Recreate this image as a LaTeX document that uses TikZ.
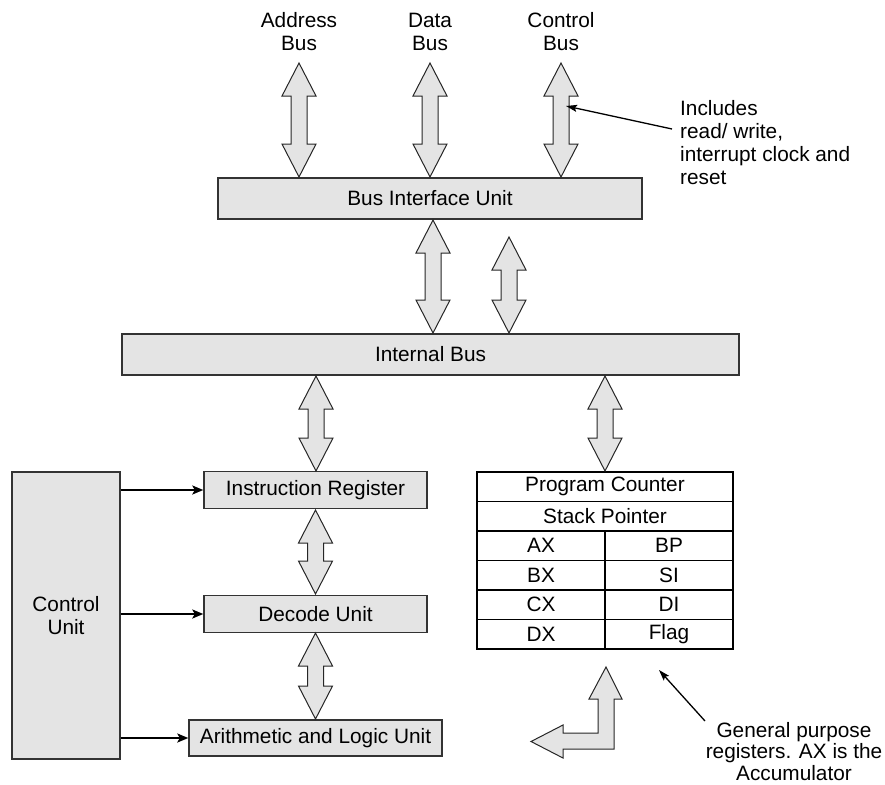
\documentclass[tikz,border=0pt]{standalone}
\usepackage{fontspec}
\setmainfont{Liberation Sans}
\usetikzlibrary{arrows.meta,calc}
\definecolor{boxfill}{HTML}{E4E4E4}
\definecolor{edge}{HTML}{333333}
\tikzset{
  lbl/.style={font=\fontsize{20.8}{23}\selectfont, inner sep=0pt, align=center},
  box/.style={draw=edge, fill=boxfill, line width=1.4pt, inner sep=0pt,
              font=\fontsize{20.8}{23}\selectfont},
  cell/.style={draw=black, line width=1.2pt, inner sep=0pt, minimum height=29.5pt,
              font=\fontsize{20.8}{23}\selectfont},
  busarrow/.style={draw=black!85, fill=boxfill, line width=1pt, line join=miter},
  ctl/.style={draw=black, line width=1.9pt, -{Stealth[length=11pt,width=9pt,inset=2.5pt]}},
  ann/.style={draw=black, line width=1.3pt, -{Stealth[length=11pt,width=7pt,inset=2pt]}}
}
\newcommand\vbus[3]{%
  \draw[busarrow] (#1,#2) -- (#1+17,#2+33) -- (#1+8,#2+33) -- (#1+8,#3-33)
    -- (#1+17,#3-33) -- (#1,#3) -- (#1-17,#3-33) -- (#1-8,#3-33)
    -- (#1-8,#2+33) -- (#1-17,#2+33) -- cycle;}
\begin{document}
\begin{tikzpicture}[x=1pt,y=-1pt]
\useasboundingbox (0,0) rectangle (885,784);

% top labels
\node[lbl] (addr) at (299,31.5) {Address\\Bus};
\node[lbl] (data) at (430,31.5) {Data\\Bus};
\node[lbl] (ctrl) at (561,31.5) {Control\\Bus};

% boxes
\node[box, minimum width=424pt, minimum height=41pt] (biu) at (430,198.5) {Bus Interface Unit};
\node[box, minimum width=617pt, minimum height=41pt] (ib) at (430.5,354.5) {Internal Bus};
\node[box, minimum width=223pt, minimum height=37pt] (ir) at (315.5,490) {Instruction Register};
\node[box, minimum width=223pt, minimum height=37pt] (dec) at (315.5,614) {Decode Unit};
\node[box, minimum width=253pt, minimum height=36pt] (alu) at (315.5,738) {Arithmetic and Logic Unit};
\node[box, minimum width=108pt, minimum height=287pt, align=center] (cu) at (66,615.5) {Control\\Unit};

% register table
\node[cell, minimum width=256pt] (pc) at (605,486.75) {Program Counter};
\node[cell, minimum width=256pt] (sp) at (605,516.25) {Stack Pointer};
\node[cell, minimum width=128pt] (ax) at (541,545.75) {AX};
\node[cell, minimum width=128pt] (bp) at (669,545.75) {BP};
\node[cell, minimum width=128pt] (bx) at (541,575.25) {BX};
\node[cell, minimum width=128pt] (si) at (669,575.25) {SI};
\node[cell, minimum width=128pt] (cx) at (541,604.75) {CX};
\node[cell, minimum width=128pt] (di) at (669,604.75) {DI};
\node[cell, minimum width=128pt] (dx) at (541,634.25) {DX};
\node[cell, minimum width=128pt] (fl) at (669,634.25) {Flag};

% bus arrows
\vbus{299}{63}{177}
\vbus{430}{63}{177}
\vbus{561}{63}{177}
\vbus{433}{220}{333}
\vbus{509}{237}{333}
\vbus{316}{376}{471}
\vbus{605}{376}{471}
\vbus{315.5}{510}{594}
\vbus{315.5}{633}{719}

% bent arrow
\draw[busarrow] (606,667) -- (622,699) -- (614,699) -- (614,749) -- (563,749)
  -- (563,758) -- (531,741.5) -- (563,725) -- (563,733) -- (598,733)
  -- (598,699) -- (589,699) -- cycle;

% control lines
\draw[ctl] (cu.east |- ir.west) -- (ir.west);
\draw[ctl] (cu.east |- dec.west) -- (dec.west);
\draw[ctl] (cu.east |- alu.west) -- (alu.west);

% annotations
\node[lbl, align=left, anchor=north west] (inc) at (680,100)
  {Includes\\read/ write,\\interrupt clock and\\reset};
\coordinate (incstart) at (672,129);
\coordinate (cbtip) at (566,106);
\draw[ann] (incstart) -- (cbtip);

\node[lbl, anchor=north, font=\fontsize{20.8}{21.5}\selectfont] (gp) at (794,722)
  {General purpose\\registers. AX is the\\Accumulator};
\coordinate (gpstart) at (705,721);
\coordinate (gptip) at (659,670);
\draw[ann] (gpstart) -- (gptip);
\end{tikzpicture}
\end{document}
